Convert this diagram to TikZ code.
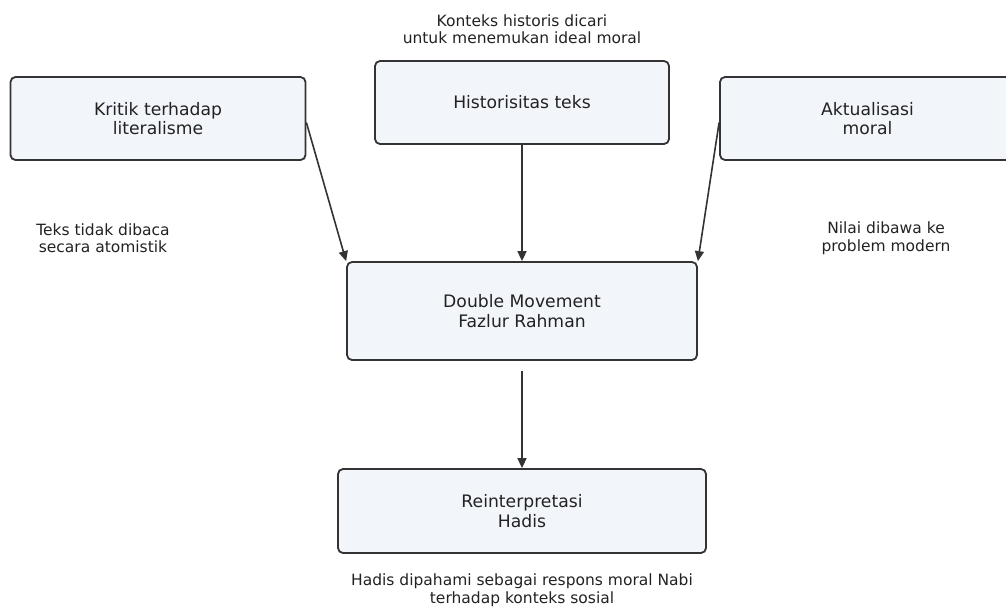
\documentclass[tikz,border=0pt]{standalone}
\usepackage{fontspec}
\setmainfont{DejaVu Sans}
\usetikzlibrary{arrows.meta}
\definecolor{boxfill}{HTML}{F2F5FA}
\definecolor{boxdraw}{HTML}{333333}
\definecolor{txt}{HTML}{222222}
\tikzset{
  box/.style={draw=boxdraw, fill=boxfill, line width=1.8pt, rounded corners=5pt,
    align=center, inner sep=0pt, font=\fontsize{17.2}{19.5}\selectfont, text=txt},
  note/.style={align=center, inner sep=0pt, font=\fontsize{15.5}{17.5}\selectfont, text=txt},
  conn/.style={draw=boxdraw, line width=1.6pt, -{Triangle[length=10pt,width=9pt]}}
}
\begin{document}
\begin{tikzpicture}[x=1pt,y=-1pt]
\useasboundingbox (0,0) rectangle (1006,608);
\clip (0,0) rectangle (1006,608);
\node[box, minimum width=295pt, minimum height=83pt] (kritik) at (158,118.5) {Kritik terhadap\\literalisme};
\node[box, minimum width=294pt, minimum height=83pt] (hist) at (522,102.5) {Historisitas teks};
\node[box, minimum width=295pt, minimum height=83pt] (akt) at (867.5,118.5) {Aktualisasi\\moral};
\node[box, minimum width=350pt, minimum height=98pt] (dm) at (522,311) {Double Movement\\Fazlur Rahman};
\node[box, minimum width=368pt, minimum height=84pt] (rh) at (522,511) {Reinterpretasi\\Hadis};
\node[note] (n1) at (522,29) {Konteks historis dicari\\untuk menemukan ideal moral};
\node[note] (n2) at (103,238) {Teks tidak dibaca\\secara atomistik};
\node[note] (n3) at (886,238) {Nilai dibawa ke\\problem modern};
\node[note] (n4) at (522,590) {Hadis dipahami sebagai respons moral Nabi\\terhadap konteks sosial};
\draw[conn] ([yshift=-4pt]kritik.east) -- (dm.north west);
\draw[conn] (hist.south) -- (dm.north);
\draw[conn] ([yshift=-4pt]akt.west) -- (dm.north east);
\draw[conn, shorten <=10pt] (dm.south) -- (rh.north);
\end{tikzpicture}
\end{document}
